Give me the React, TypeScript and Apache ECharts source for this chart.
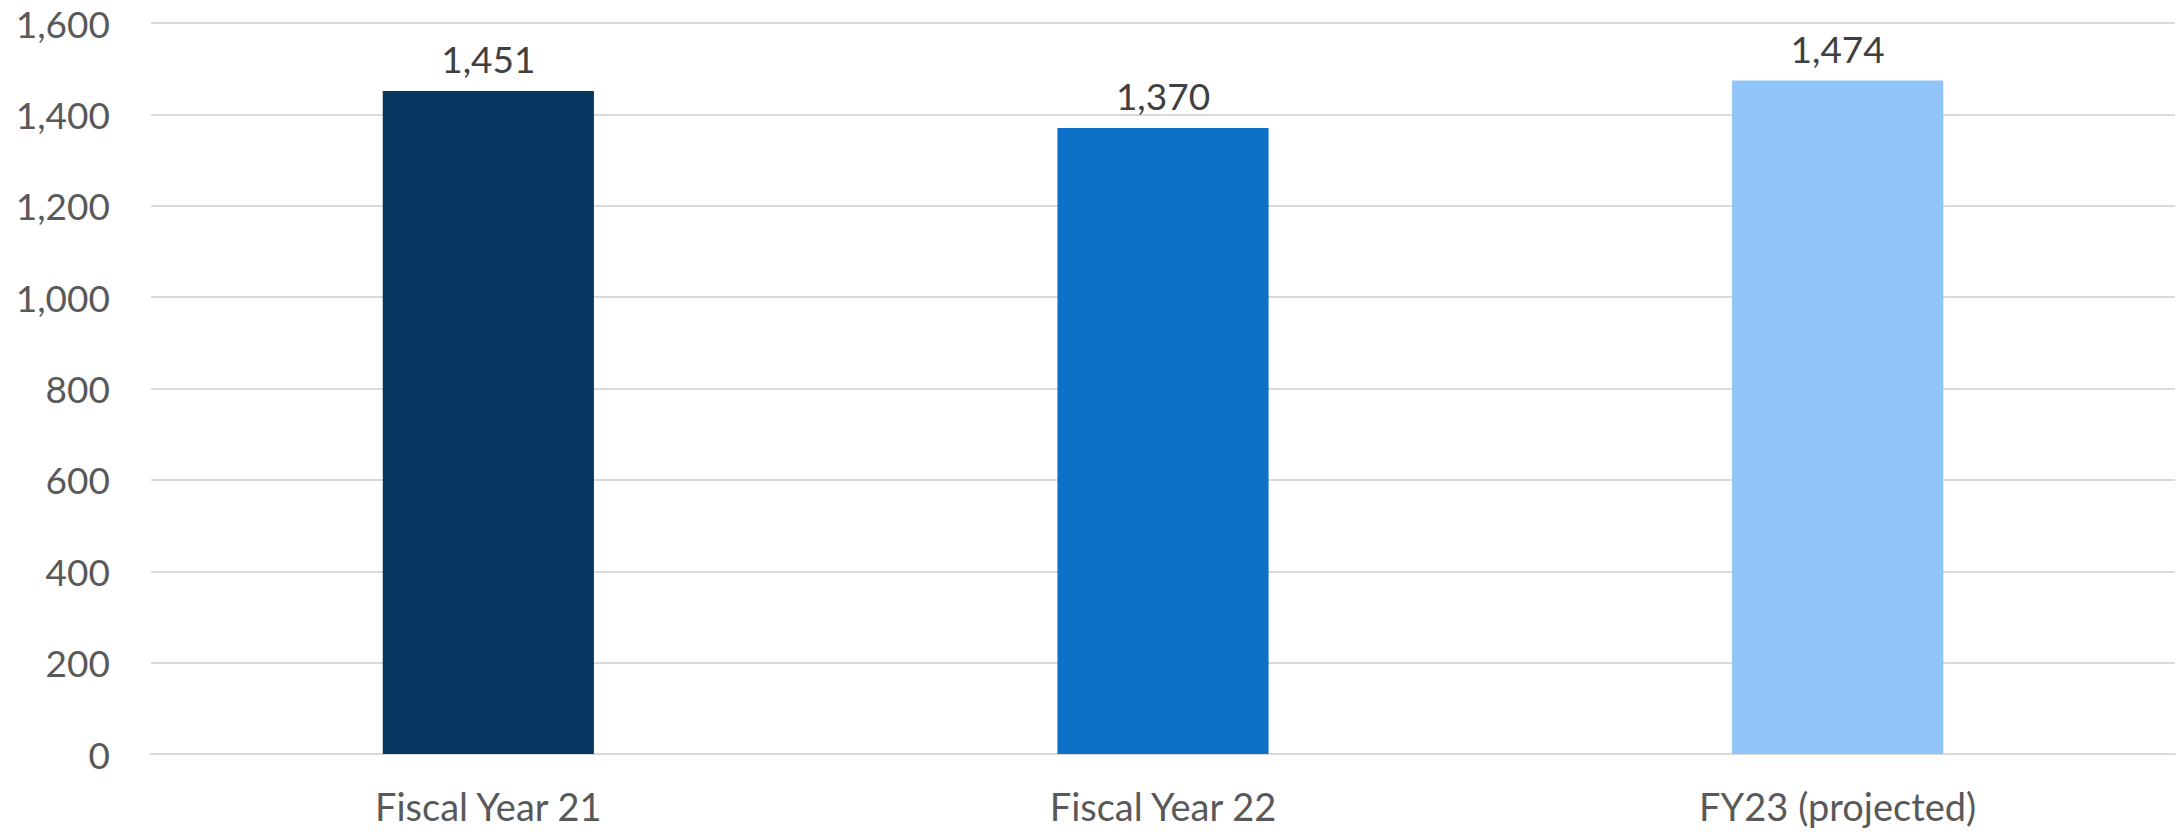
import React, { useEffect, useRef } from "react";
import * as echarts from "echarts";

const categories = ["Fiscal Year 21", "Fiscal Year 22", "FY23 (projected)"];
const values = [1451, 1370, 1474];
const barColors = ["#063761", "#0E71C8", "#91C5F7"];
const yTicks = { min: 0, max: 1600, interval: 200 };

export default function App() {
  const ref = useRef<HTMLDivElement>(null);
  useEffect(() => {
    document.body.style.margin = "0";
    if (!ref.current) return;
    const chart = echarts.init(ref.current, null, { renderer: "svg" });
    chart.setOption({
      animation: false,
      grid: { left: 151, right: 1, top: 23, bottom: 78, containLabel: false },
      xAxis: {
        type: "category",
        data: categories,
        axisLine: { show: true, lineStyle: { color: "#D9D9D9", width: 2 } },
        axisTick: { show: false },
        axisLabel: {
          color: "#595959",
          fontSize: 38,
          fontFamily: "Lato",
          margin: 33,
        },
      },
      yAxis: {
        type: "value",
        min: yTicks.min,
        max: yTicks.max,
        interval: yTicks.interval,
        axisLine: { show: false },
        axisTick: { show: false },
        splitLine: { lineStyle: { color: "#D9D9D9", width: 2 } },
        axisLabel: {
          color: "#595959",
          fontSize: 37,
          fontFamily: "Lato",
          margin: 41,
          formatter: (v: number) => v.toLocaleString("en-US"),
        },
      },
      series: [
        {
          type: "bar",
          barWidth: "31.3%",
          data: values.map((v, i) => ({ value: v, itemStyle: { color: barColors[i] } })),
          label: {
            show: true,
            position: "top",
            distance: 14,
            color: "#404040",
            fontSize: 37,
            fontFamily: "Lato",
            formatter: (p: any) => Number(p.value).toLocaleString("en-US"),
          },
        },
      ],
    });
    return () => chart.dispose();
  }, []);
  return <div ref={ref} style={{ width: 2176, height: 832 }} />;
}
